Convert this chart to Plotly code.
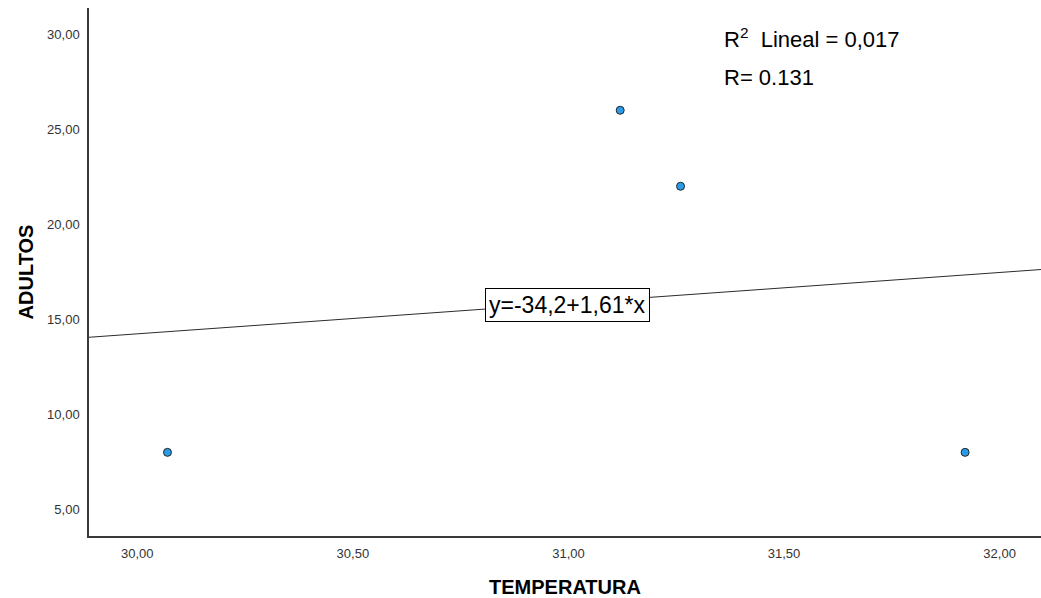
import numpy as np
import plotly.graph_objects as go

# Data
temperatura = [30.07, 31.12, 31.26, 31.92]
adultos = [8, 26, 22, 8]

x_ticks = [30.0, 30.5, 31.0, 31.5, 32.0]
y_ticks = [5, 10, 15, 20, 25, 30]

eq_text = "y=-34,2+1,61*x"
r2_text = "R<sup>2</sup>&nbsp; Lineal = 0,017"
r_text = "R= 0.131"

x_range = [29.888, 32.096]
y_range = [3.60, 31.38]

# least-squares fit line drawn across the x range
slope, intercept = np.polyfit(temperatura, adultos, 1)
fit_x = np.array(x_range)
fit_y = intercept + slope * fit_x

FONT = "Liberation Sans, Arial, sans-serif"

fig = go.Figure()
fig.add_trace(go.Scatter(
    x=fit_x, y=fit_y, mode="lines",
    line=dict(color="#2b2b2b", width=1),
    hoverinfo="skip", showlegend=False,
))
fig.add_trace(go.Scatter(
    x=temperatura, y=adultos, mode="markers",
    marker=dict(size=8, color="#2a9be8", line=dict(color="#252525", width=1)),
    showlegend=False,
))

axis_common = dict(
    showgrid=False, zeroline=False, showline=True,
    linecolor="#3a3a3a", linewidth=1.5,
    ticks="outside", ticklen=5, tickcolor="rgba(0,0,0,0)",
    tickformat=".2f",
    tickfont=dict(family=FONT, size=13, color="#333333"),
)

fig.update_xaxes(
    range=x_range, tickvals=x_ticks,
    title=dict(text="<b>TEMPERATURA</b>", font=dict(family=FONT, size=20, color="#000"), standoff=20),
    **axis_common,
)
fig.update_yaxes(
    range=y_range, tickvals=y_ticks,
    title=dict(text="<b>ADULTOS</b>", font=dict(family=FONT, size=20, color="#000"), standoff=8),
    **axis_common,
)

fig.add_annotation(
    x=0.503, y=0.4375, xref="paper", yref="paper",
    text=eq_text, showarrow=False,
    font=dict(family=FONT, size=23, color="#000"),
    bgcolor="white", bordercolor="#000", borderwidth=1, borderpad=3,
    xanchor="center", yanchor="middle",
)
fig.add_annotation(
    x=0.665, y=0.944, xref="paper", yref="paper",
    text=r2_text, showarrow=False,
    font=dict(family=FONT, size=22, color="#000"),
    xanchor="left", yanchor="middle",
)
fig.add_annotation(
    x=0.665, y=0.868, xref="paper", yref="paper",
    text=r_text, showarrow=False,
    font=dict(family=FONT, size=22, color="#000"),
    xanchor="left", yanchor="middle",
)

fig.update_layout(
    width=1041, height=598,
    margin=dict(l=89, r=0, t=8, b=62),
    paper_bgcolor="white", plot_bgcolor="white",
    separators=",.",
    font=dict(family=FONT),
)

fig.write_html("out.html")
